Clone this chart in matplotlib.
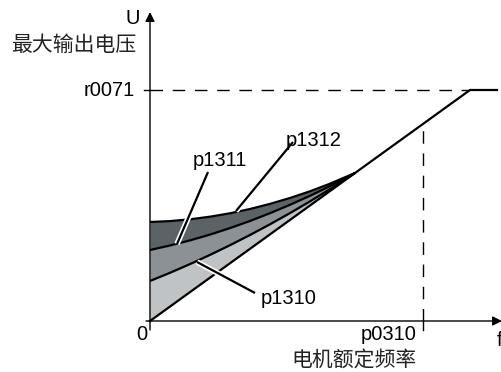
import matplotlib.pyplot as plt
import matplotlib.patheffects as pe

# schematic units: f and U measured from the origin of the diagram
f_pts = [0, 20, 40, 60, 80, 100, 120, 140, 160, 180, 205]
u_p1312 = [99, 99.9, 101.7, 104.3, 107.7, 112.0, 117.1, 123.0, 129.7, 137.3, 148]
u_p1311 = [71, 75.5, 80.6, 86.4, 92.9, 100.0, 107.8, 116.2, 125.2, 134.9, 148]
u_p1310 = [40, 48.2, 56.9, 66.1, 75.8, 86.0, 96.7, 107.9, 119.6, 131.9, 148]
u_linear = [0, 14.4, 28.9, 43.3, 57.8, 72.2, 86.6, 101.1, 115.5, 130.0, 148]

# U/f characteristic: linear up to the knee, then flat at r0071
char_f = [0, 320, 347]
char_u = [0, 231, 231]
f_rated = 273      # p0310
u_max = 231        # r0071
u_at_rated = 197

fonts = ['Liberation Sans', 'Noto Sans CJK SC', 'DejaVu Sans']
plt.rcParams['font.family'] = fonts

fig = plt.figure(figsize=(5.02, 3.72), dpi=100)
ax = fig.add_axes([0, 0, 1, 1])
ax.set_xlim(-150, 352)
ax.set_ylim(-51, 321)
ax.axis('off')

# --- shaded boost bands ---
ax.fill_between(f_pts, u_p1311, u_p1312, color='#5b6367', lw=0)
ax.fill_between(f_pts, u_p1310, u_p1311, color='#8b9195', lw=0)
ax.fill_between(f_pts, u_linear, u_p1310, color='#c0c3c5', lw=0)

for u in (u_p1312, u_p1311, u_p1310):
    ax.plot(f_pts, u, color='black', lw=1.6, solid_capstyle='butt')
ax.plot(char_f, char_u, color='black', lw=1.6)

# --- dashed guides ---
ax.plot([0, char_f[1]], [u_max, u_max], color='black', lw=1, dashes=(9, 7))
ax.plot([f_rated, f_rated], [0, u_at_rated], color='black', lw=1, dashes=(9, 7))

# --- axes with arrows ---
ax.annotate('', xy=(0, 309), xytext=(0, -9),
            arrowprops=dict(arrowstyle='-|>', color='black', lw=1,
                            mutation_scale=14, shrinkA=0, shrinkB=0))
ax.annotate('', xy=(352, 0), xytext=(-4, 0),
            arrowprops=dict(arrowstyle='-|>', color='black', lw=1,
                            mutation_scale=14, shrinkA=0, shrinkB=0))
ax.plot([-6, 0], [u_max, u_max], color='black', lw=1)
ax.plot([f_rated, f_rated], [0, -9], color='black', lw=1)

# --- leader lines with white halo ---
halo = [pe.withStroke(linewidth=4, foreground='white')]
leaders = [((143, 179), (86, 110)),
           ((58, 149), (27, 77)),
           ((105, 28), (47, 59))]
for (x0, y0), (x1, y1) in leaders:
    ax.plot([x0, x1], [y0, y1], color='black', lw=1.6, path_effects=halo,
            solid_capstyle='butt')

fs = 14.5
ax.text(164, 180, 'p1312', fontsize=fs, ha='center', va='center')
ax.text(70, 161, 'p1311', fontsize=fs, ha='center', va='center')
ax.text(139, 22, 'p1310', fontsize=fs, ha='center', va='center')

ax.text(-15, u_max, 'r0071', fontsize=fs, ha='right', va='center')
ax.text(-8, -14, '0', fontsize=fs, ha='center', va='center')
ax.text(267, -14, 'p0310', fontsize=fs, ha='right', va='center')
ax.text(347, -19, 'f', fontsize=fs, ha='left', va='center')
ax.text(-17, 302, 'U', fontsize=fs, ha='center', va='center')

ax.text(-76, 276, '最大输出电压', fontsize=15, ha='center', va='center',
        color='#222222')
ax.text(267, -40, '电机额定频率', fontsize=15, ha='right', va='center',
        color='#222222')

fig.savefig('out.png', dpi=100)
